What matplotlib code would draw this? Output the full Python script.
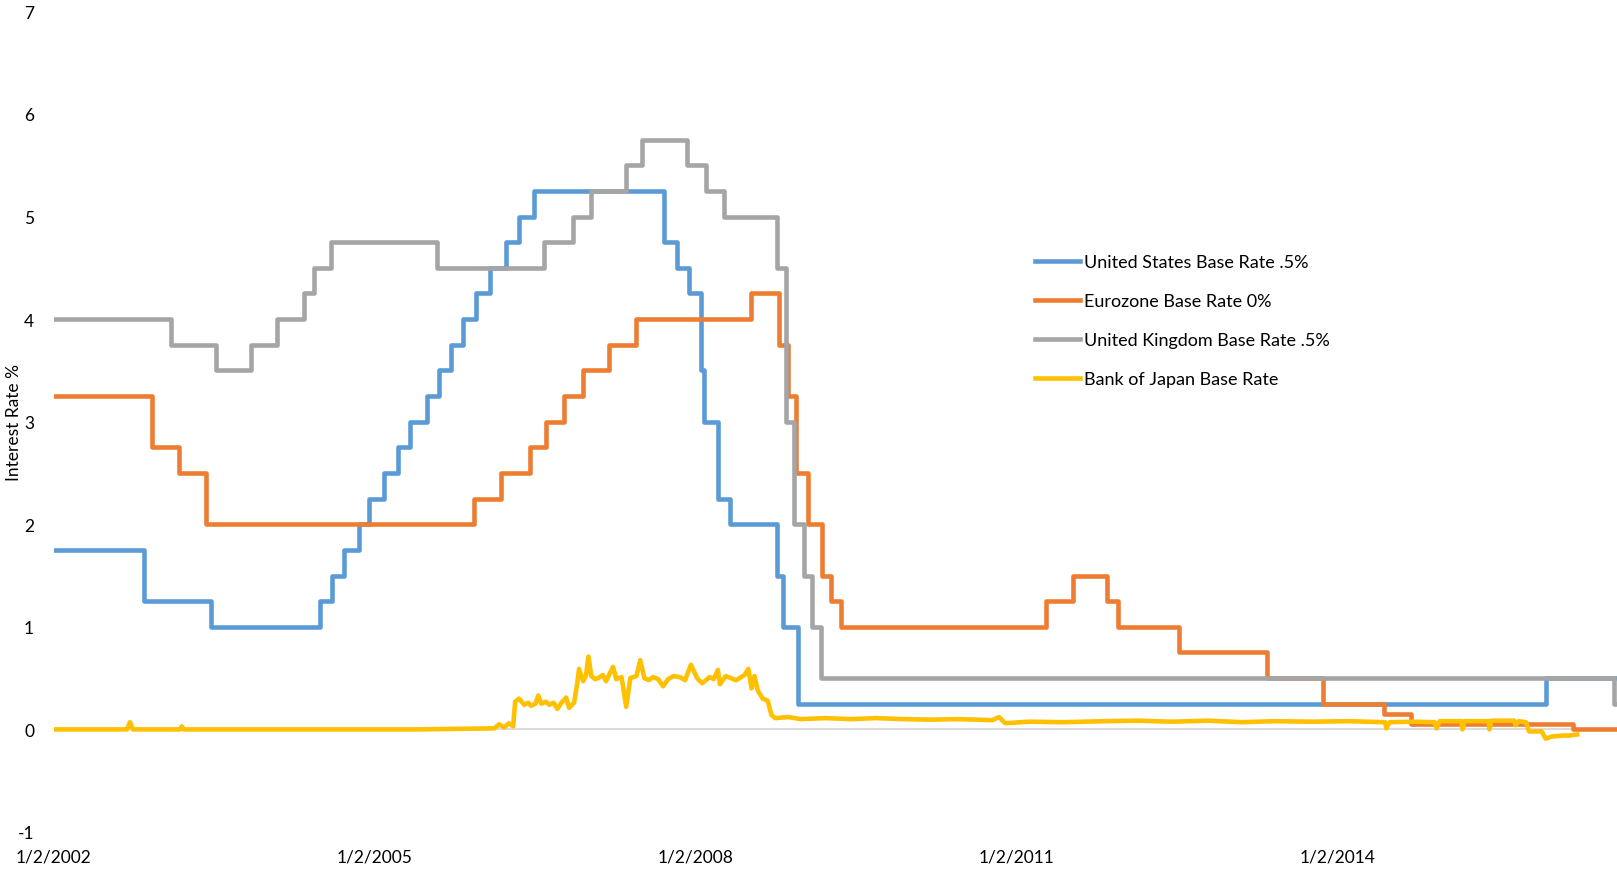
import matplotlib
matplotlib.use("Agg")
import matplotlib.pyplot as plt
import matplotlib.dates as mdates
import pandas as pd

plt.rcParams['font.family'] = ['Lato', 'DejaVu Sans']
plt.rcParams['axes.unicode_minus'] = False

end_date = "2016-08-15"

# Fed funds target (date of change, rate)
us_dates = ["2002-01-02", "2002-11-06", "2003-06-25", "2004-06-30", "2004-08-10",
            "2004-09-21", "2004-11-10", "2004-12-14", "2005-02-02", "2005-03-22",
            "2005-05-03", "2005-06-30", "2005-08-09", "2005-09-20", "2005-11-01",
            "2005-12-13", "2006-01-31", "2006-03-28", "2006-05-10", "2006-06-29",
            "2007-09-18", "2007-10-31", "2007-12-11", "2008-01-22", "2008-01-30",
            "2008-03-18", "2008-04-30", "2008-10-08", "2008-10-29", "2008-12-16",
            "2015-12-16"]
us_rates = [1.75, 1.25, 1.00, 1.25, 1.50, 1.75, 2.00, 2.25, 2.50, 2.75,
            3.00, 3.25, 3.50, 3.75, 4.00, 4.25, 4.50, 4.75, 5.00, 5.25,
            4.75, 4.50, 4.25, 3.50, 3.00, 2.25, 2.00, 1.50, 1.00, 0.25,
            0.50]

# ECB main refinancing rate
eu_dates = ["2002-01-02", "2002-12-05", "2003-03-06", "2003-06-05", "2005-12-06",
            "2006-03-08", "2006-06-15", "2006-08-09", "2006-10-11", "2006-12-13",
            "2007-03-14", "2007-06-13", "2008-07-09", "2008-10-15", "2008-11-12",
            "2008-12-10", "2009-01-21", "2009-03-11", "2009-04-08", "2009-05-13",
            "2011-04-13", "2011-07-13", "2011-11-09", "2011-12-14", "2012-07-11",
            "2013-05-08", "2013-11-13", "2014-06-11", "2014-09-10", "2016-03-16"]
eu_rates = [3.25, 2.75, 2.50, 2.00, 2.25, 2.50, 2.75, 3.00, 3.25, 3.50,
            3.75, 4.00, 4.25, 3.75, 3.25, 2.50, 2.00, 1.50, 1.25, 1.00,
            1.25, 1.50, 1.25, 1.00, 0.75, 0.50, 0.25, 0.15, 0.05, 0.00]

# Bank of England bank rate
uk_dates = ["2002-01-02", "2003-02-06", "2003-07-10", "2003-11-06", "2004-02-05",
            "2004-05-06", "2004-06-10", "2004-08-05", "2005-08-04", "2006-08-03",
            "2006-11-09", "2007-01-11", "2007-05-10", "2007-07-05", "2007-12-06",
            "2008-02-07", "2008-04-10", "2008-10-08", "2008-11-06", "2008-12-04",
            "2009-01-08", "2009-02-05", "2009-03-05", "2016-08-04"]
uk_rates = [4.00, 3.75, 3.50, 3.75, 4.00, 4.25, 4.50, 4.75, 4.50, 4.75,
            5.00, 5.25, 5.50, 5.75, 5.50, 5.25, 5.00, 4.50, 3.00, 2.00,
            1.50, 1.00, 0.50, 0.25]

# Bank of Japan overnight call rate
jp_dates = ["2002-01-02", "2002-09-10", "2002-09-20", "2002-09-30", "2003-03-10",
            "2003-03-16", "2003-03-22", "2004-06-01", "2005-06-01", "2006-02-15",
            "2006-03-03", "2006-03-20", "2006-04-06", "2006-04-20", "2006-04-27",
            "2006-05-10", "2006-05-28", "2006-06-10", "2006-06-20", "2006-07-05",
            "2006-07-15", "2006-07-25", "2006-08-10", "2006-08-22", "2006-09-05",
            "2006-09-18", "2006-10-02", "2006-10-18", "2006-10-28", "2006-11-14",
            "2006-11-25", "2006-12-01", "2006-12-15", "2006-12-25", "2007-01-02",
            "2007-01-12", "2007-01-25", "2007-02-04", "2007-02-20", "2007-03-03",
            "2007-03-27", "2007-04-07", "2007-04-25", "2007-05-11", "2007-05-25",
            "2007-06-15", "2007-06-28", "2007-07-12", "2007-07-28", "2007-08-10",
            "2007-08-28", "2007-09-14", "2007-10-01", "2007-10-20", "2007-11-10",
            "2007-11-28", "2007-12-18", "2008-01-08", "2008-01-25", "2008-02-20",
            "2008-03-05", "2008-03-19", "2008-03-26", "2008-04-15", "2008-05-01",
            "2008-05-20", "2008-06-01", "2008-06-18", "2008-07-01", "2008-07-12",
            "2008-07-22", "2008-08-02", "2008-08-19", "2008-09-05", "2008-09-18",
            "2008-10-01", "2008-11-15", "2008-12-26", "2009-03-20", "2009-06-15",
            "2009-09-10", "2009-12-10", "2010-03-15", "2010-06-20", "2010-10-12",
            "2010-11-04", "2010-11-25", "2011-02-15", "2011-06-10", "2011-10-30",
            "2012-02-20", "2012-06-15", "2012-10-18", "2013-02-10", "2013-06-01",
            "2013-10-09", "2014-02-10", "2014-06-14", "2014-06-18", "2014-06-29",
            "2014-09-15", "2014-11-30", "2014-12-07", "2014-12-17", "2015-03-01",
            "2015-03-05", "2015-03-12", "2015-06-01", "2015-06-05", "2015-06-12",
            "2015-08-29", "2015-09-02", "2015-09-13", "2015-10-08", "2015-10-18",
            "2015-11-30", "2015-12-14", "2016-01-04", "2016-02-10", "2016-03-04",
            "2016-03-30"]
jp_rates = [0.00, 0.00, 0.07, 0.00, 0.00,
            0.03, 0.00, 0.00, 0.00, 0.01,
            0.05, 0.02, 0.06, 0.03, 0.27,
            0.30, 0.24, 0.26, 0.23, 0.25,
            0.33, 0.25, 0.27, 0.24, 0.26,
            0.20, 0.26, 0.31, 0.21, 0.26,
            0.45, 0.59, 0.47, 0.53, 0.71,
            0.52, 0.49, 0.50, 0.53, 0.47,
            0.61, 0.49, 0.51, 0.22, 0.50,
            0.52, 0.675, 0.50, 0.48, 0.51,
            0.49, 0.42, 0.49, 0.52, 0.51,
            0.48, 0.63, 0.50, 0.45, 0.51,
            0.49, 0.58, 0.44, 0.52, 0.50,
            0.48, 0.50, 0.53, 0.59, 0.40,
            0.52, 0.38, 0.30, 0.28, 0.14,
            0.11, 0.12, 0.10, 0.11, 0.10,
            0.11, 0.10, 0.095, 0.10, 0.09,
            0.12, 0.06, 0.075, 0.07, 0.08,
            0.085, 0.075, 0.085, 0.07, 0.08,
            0.075, 0.08, 0.07, 0.01, 0.07,
            0.075, 0.07, 0.01, 0.08, 0.08,
            0.00, 0.08, 0.08, 0.00, 0.085,
            0.085, 0.04, 0.08, 0.07, -0.02,
            -0.02, -0.09, -0.07, -0.06, -0.06,
            -0.05]

labels = ["United States Base Rate .5%", "Eurozone Base Rate 0%",
          "United Kingdom Base Rate .5%", "Bank of Japan Base Rate"]
colors = ["#5B9BD5", "#ED7D31", "#A5A5A5", "#FFC000"]


def step_series(dates, rates):
    d = pd.to_datetime(dates + [end_date])
    return d, rates + [rates[-1]]


def date_label(v, pos):
    d = mdates.num2date(v)
    return "{}/{}/{}".format(d.month, d.day, d.year)


fig = plt.figure(figsize=(16.17, 8.78), dpi=100)
ax = fig.add_axes([0.0331, 0.0513, 0.967, 0.9346])

ax.axhline(0, color="#D9D9D9", lw=1.3, zorder=1)

for (dates, rates), lab, col in zip([(us_dates, us_rates), (eu_dates, eu_rates),
                                      (uk_dates, uk_rates)], labels[:3], colors[:3]):
    x, y = step_series(dates, rates)
    ax.step(x, y, where="post", color=col, lw=3.3, label=lab, zorder=2)

ax.plot(pd.to_datetime(jp_dates), jp_rates, color=colors[3], lw=3.3,
        label=labels[3], zorder=3)

ax.set_xlim(pd.Timestamp("2002-01-02"), pd.Timestamp("2016-08-14"))
ax.set_ylim(-1, 7)
ax.set_yticks(range(-1, 8))
ax.set_xticks(pd.to_datetime(["2002-01-02", "2005-01-02", "2008-01-02",
                              "2011-01-02", "2014-01-02"]))
ax.xaxis.set_major_formatter(plt.FuncFormatter(date_label))
ax.tick_params(axis="both", length=0, labelsize=12.5, colors="#000000")
ax.tick_params(axis="y", pad=14)
ax.tick_params(axis="x", pad=12)
for s in ax.spines.values():
    s.set_visible(False)

ax.set_ylabel("Interest Rate %", fontsize=12.5)
ax.yaxis.set_label_coords(-0.020, 0.5)

ax.legend(loc="upper left", bbox_to_anchor=(0.640, 0.709),
          bbox_transform=fig.transFigure, frameon=False, fontsize=13,
          handlelength=2.5, handletextpad=0.2, labelspacing=1.27,
          borderpad=0, borderaxespad=0)

fig.savefig("out.png", dpi=100)
